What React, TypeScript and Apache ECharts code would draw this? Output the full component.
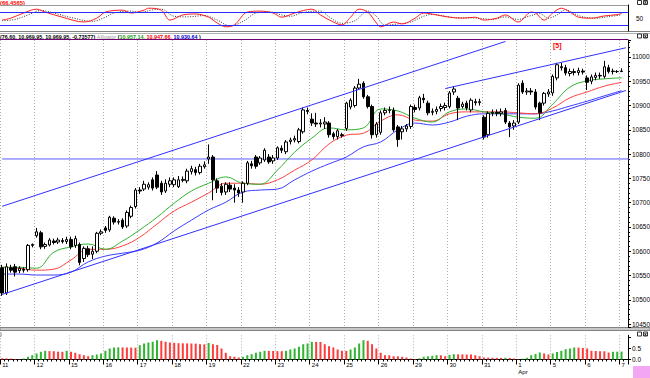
import React, { useEffect, useRef } from "react";
import * as echarts from "echarts";

const dayLabels = ["11", "12", "15", "16", "17", "18", "19", "22", "23", "24", "25", "26", "29", "30", "31", "1", "5", "6", "7"];
const barsPerDay = [8, 8, 8, 8, 8, 8, 8, 8, 8, 8, 8, 8, 8, 8, 8, 8, 8, 8, 2];
const monthMark = { day: "1", text: "Apr" };

// [open, high, low, close]
const ohlc: number[][] = [
  [10566, 10572, 10508, 10514], [10514, 10575, 10510, 10568], [10566, 10572, 10556, 10561], [10568, 10574, 10548, 10557],
  [10560, 10569, 10555, 10565], [10563, 10567, 10556, 10561], [10562, 10615, 10558, 10612], [10612, 10616, 10608, 10614],
  [10632, 10648, 10628, 10640], [10638, 10642, 10604, 10609], [10610, 10618, 10605, 10614], [10613, 10627, 10610, 10623],
  [10621, 10626, 10614, 10618], [10619, 10628, 10615, 10623], [10622, 10627, 10616, 10620], [10620, 10630, 10615, 10624],
  [10624, 10630, 10604, 10609], [10612, 10632, 10607, 10626], [10614, 10618, 10571, 10577], [10585, 10610, 10578, 10606],
  [10605, 10611, 10588, 10593], [10594, 10610, 10584, 10600], [10600, 10640, 10596, 10637], [10637, 10645, 10633, 10640],
  [10648, 10652, 10638, 10643], [10644, 10673, 10640, 10670], [10668, 10672, 10655, 10660], [10660, 10666, 10655, 10661],
  [10664, 10668, 10646, 10650], [10652, 10684, 10648, 10680], [10672, 10694, 10668, 10690], [10692, 10730, 10688, 10726],
  [10726, 10732, 10718, 10724], [10728, 10745, 10724, 10738], [10732, 10742, 10727, 10737], [10747, 10752, 10725, 10730],
  [10757, 10765, 10728, 10732], [10740, 10745, 10716, 10722], [10724, 10748, 10720, 10740], [10738, 10752, 10732, 10745],
  [10737, 10752, 10732, 10747], [10733, 10755, 10730, 10747], [10746, 10754, 10742, 10748], [10745, 10770, 10740, 10765],
  [10764, 10776, 10758, 10770], [10768, 10774, 10756, 10762], [10762, 10780, 10758, 10775], [10774, 10785, 10770, 10778],
  [10790, 10820, 10780, 10794], [10794, 10798, 10705, 10747], [10745, 10750, 10720, 10730], [10734, 10740, 10715, 10721],
  [10722, 10742, 10716, 10738], [10736, 10742, 10722, 10728], [10730, 10738, 10700, 10726], [10726, 10732, 10712, 10720],
  [10722, 10744, 10700, 10740], [10740, 10786, 10736, 10782], [10780, 10786, 10770, 10776], [10794, 10798, 10770, 10775],
  [10782, 10796, 10778, 10792], [10788, 10812, 10784, 10808], [10794, 10800, 10780, 10784], [10786, 10798, 10780, 10792],
  [10792, 10816, 10788, 10813], [10812, 10818, 10802, 10808], [10805, 10829, 10800, 10825], [10826, 10834, 10820, 10829],
  [10829, 10838, 10824, 10832], [10826, 10854, 10822, 10850], [10846, 10896, 10842, 10891], [10890, 10896, 10882, 10888],
  [10872, 10884, 10858, 10864], [10864, 10885, 10856, 10862], [10862, 10872, 10855, 10864], [10862, 10876, 10852, 10866],
  [10864, 10868, 10834, 10840], [10842, 10846, 10830, 10836], [10836, 10852, 10830, 10848], [10840, 10844, 10834, 10838],
  [10853, 10908, 10848, 10905], [10897, 10915, 10892, 10911], [10900, 10940, 10896, 10936], [10936, 10955, 10932, 10944],
  [10946, 10950, 10914, 10918], [10918, 10922, 10894, 10898], [10898, 10902, 10832, 10840], [10840, 10866, 10834, 10862],
  [10845, 10890, 10840, 10885], [10885, 10896, 10880, 10890], [10890, 10898, 10884, 10891], [10890, 10896, 10846, 10850],
  [10856, 10860, 10815, 10830], [10846, 10858, 10830, 10852], [10852, 10862, 10846, 10858], [10857, 10902, 10852, 10898],
  [10896, 10902, 10886, 10892], [10895, 10920, 10890, 10916], [10915, 10924, 10905, 10912], [10905, 10910, 10880, 10885],
  [10886, 10894, 10880, 10888], [10888, 10898, 10882, 10892], [10894, 10904, 10888, 10898], [10896, 10906, 10890, 10900],
  [10898, 10930, 10894, 10926], [10928, 10940, 10922, 10934], [10915, 10920, 10870, 10895], [10898, 10908, 10894, 10903],
  [10905, 10910, 10890, 10895], [10891, 10915, 10886, 10911], [10908, 10914, 10900, 10906], [10906, 10914, 10900, 10908],
  [10876, 10880, 10830, 10835], [10840, 10888, 10834, 10884], [10884, 10892, 10878, 10886], [10886, 10892, 10878, 10884],
  [10884, 10894, 10878, 10887], [10890, 10895, 10862, 10866], [10864, 10868, 10835, 10856], [10858, 10870, 10850, 10864],
  [10866, 10946, 10862, 10942], [10946, 10952, 10924, 10928], [10928, 10936, 10922, 10930], [10930, 10936, 10922, 10928],
  [10928, 10934, 10892, 10897], [10905, 10908, 10870, 10885], [10905, 10928, 10900, 10925], [10924, 10934, 10918, 10928],
  [10926, 10964, 10920, 10960], [10957, 10988, 10952, 10984], [10980, 10988, 10972, 10978], [10978, 10984, 10962, 10967],
  [10966, 10976, 10960, 10970], [10970, 10976, 10962, 10968], [10968, 10978, 10962, 10972], [10971, 10976, 10964, 10969],
  [10957, 10962, 10932, 10948], [10950, 10964, 10944, 10959], [10958, 10968, 10952, 10962], [10962, 10968, 10955, 10961],
  [10960, 10992, 10956, 10980], [10978, 10984, 10966, 10970], [10970, 10976, 10964, 10971], [10970, 10973, 10967, 10970],
  [10971, 10976.6, 10969.95, 10969.95],
];

const alligatorIdx = [0, 4, 8, 12, 16, 20, 24, 28, 32, 36, 40, 44, 48, 52, 56, 60, 64, 68, 72, 76, 80, 84, 88, 92, 96, 100, 104, 108, 112, 116, 120, 124, 128, 132, 136, 140, 144];
const lipsVals = [10567, 10567, 10565, 10598, 10609, 10615, 10604, 10621, 10644, 10670, 10699, 10724, 10740, 10753, 10740, 10738, 10767, 10804, 10833, 10854, 10850, 10854, 10893, 10889, 10874, 10866, 10887, 10893, 10887, 10883, 10876, 10874, 10903, 10938, 10951, 10955, 10957.14];
const teethVals = [10567, 10565, 10561, 10563, 10582, 10604, 10604, 10611, 10629, 10656, 10683, 10701, 10720, 10740, 10740, 10738, 10747, 10767, 10788, 10821, 10839, 10843, 10868, 10881, 10870, 10868, 10883, 10887, 10887, 10887, 10885, 10883, 10895, 10916, 10928, 10940, 10947.66];
const jawVals = [10553, 10553, 10551, 10551, 10557, 10578, 10590, 10596, 10602, 10617, 10642, 10664, 10685, 10701, 10722, 10726, 10728, 10747, 10765, 10780, 10794, 10815, 10825, 10850, 10864, 10860, 10866, 10878, 10883, 10883, 10883, 10883, 10889, 10899, 10909, 10920, 10930.64];

const oscMain = [[0, 46], [2, 52], [5, 68], [8, 80], [10, 71], [14, 55], [19, 40], [22, 52], [24, 71], [28, 77], [30, 68], [33, 77], [34, 83], [37, 77], [39, 46], [42, 62], [45, 65], [48, 55], [50, 37], [52, 25], [54, 31], [57, 71], [60, 74], [63, 68], [65, 55], [68, 68], [72, 80], [74, 62], [77, 40], [79, 31], [81, 55], [83, 80], [85, 71], [87, 37], [88, 25], [91, 40], [93, 34], [96, 52], [98, 68], [101, 62], [104, 55], [107, 52], [110, 55], [112, 46], [115, 52], [117, 62], [120, 40], [123, 71], [124, 68], [126, 46], [128, 68], [130, 83], [132, 71], [134, 55], [137, 52], [140, 59], [143, 63], [144, 66.4565]];
const oscSignal = [[0, 44], [3, 48], [6, 62], [9, 76], [12, 68], [16, 54], [21, 42], [24, 55], [26, 68], [30, 74], [32, 70], [35, 78], [37, 80], [40, 58], [43, 56], [47, 60], [50, 46], [53, 28], [56, 42], [59, 68], [62, 72], [65, 62], [67, 58], [70, 70], [74, 74], [76, 56], [79, 36], [82, 44], [85, 74], [87, 58], [89, 30], [92, 34], [95, 40], [98, 58], [100, 64], [103, 58], [106, 53], [109, 53], [112, 50], [114, 48], [117, 56], [120, 48], [122, 56], [125, 66], [127, 52], [129, 62], [131, 78], [133, 66], [135, 56], [138, 52], [141, 57], [144, 62]];
const oscLevels = [70, 30];

const aoVals = [
  0.055, 0.05, 0.045, 0.023, 0.018, 0.045, 0.123, 0.195, 0.273, 0.35, 0.395, 0.382, 0.377, 0.355, 0.35, 0.395,
  0.35, 0.305, 0.241, 0.195, 0.15, 0.195, 0.227, 0.273, 0.395, 0.5, 0.545, 0.555, 0.55, 0.545, 0.541, 0.536,
  0.65, 0.727, 0.773, 0.805, 0.877, 0.85, 0.805, 0.773, 0.759, 0.741, 0.736, 0.732, 0.727, 0.723, 0.695, 0.691,
  0.75, 0.695, 0.659, 0.5, 0.305, 0.15, 0.123, 0.091, 0.123, 0.195, 0.241, 0.305, 0.35, 0.395, 0.391, 0.386,
  0.382, 0.377, 0.395, 0.455, 0.5, 0.577, 0.695, 0.727, 0.805, 0.8, 0.795, 0.695, 0.605, 0.545, 0.455, 0.395,
  0.391, 0.455, 0.545, 0.727, 0.877, 0.85, 0.695, 0.5, 0.305, 0.195, 0.191, 0.15, 0.145, 0.123, 0.091, 0.045,
  0.023, 0.055, 0.123, 0.145, 0.168, 0.195, 0.191, 0.15, 0.205, 0.241, 0.236, 0.232, 0.227, 0.223, 0.195, 0.15,
  0.091, 0.086, 0.077, 0.075, 0.073, 0.077, 0.073, 0.045, 0.014, 0.036, 0.077, 0.195, 0.25, 0.318, 0.273, 0.227,
  0.273, 0.341, 0.395, 0.468, 0.5, 0.545, 0.541, 0.523, 0.5, 0.395, 0.386, 0.377, 0.373, 0.318, 0.35, 0.355,
  0.359,
];

const upperChannel = [[0, 10692.5], [117, 11032]];
const lowerChannel = [[0, 10511], [145, 10931]];
const upperChannel2 = [[103, 10935], [145, 11019]];
const hLevel = 10790;
const headerQuote = ["76.60", "10,969.95", "10,969.95", "-0.73577"];
const waveLabel = "[5]";
const priceMin = 10444;
const priceMax = 11035;

const FONT = '"Liberation Sans", Arial, sans-serif';

function fmt2(v: number) {
  return v.toLocaleString("en-US", { minimumFractionDigits: 2, maximumFractionDigits: 2 });
}

function buildOption() {
  const categories: string[] = [];
  const dayStart = new Map<number, string>();
  dayLabels.forEach((d, di) => {
    for (let k = 0; k < barsPerDay[di]; k++) {
      if (k === 0) dayStart.set(categories.length, d);
      categories.push(d + ":" + k);
    }
  });
  const isDayStart = (i: number) => dayStart.has(i);

  const gridLine = {
    show: true,
    interval: (i: number) => isDayStart(i),
    lineStyle: { color: "#b0b0b0", type: [1, 2], width: 1 },
  };
  const hiddenX = (gridIndex: number, split: boolean) => ({
    type: "category",
    gridIndex,
    data: categories,
    boundaryGap: true,
    axisLine: { show: false },
    axisTick: { show: false },
    axisLabel: { show: false },
    splitLine: split ? gridLine : { show: false },
  });

  const candleData = ohlc.map(([o, h, l, c]) => [o, c, l, h]);
  const pairs = (idx: number[], vals: number[]) => idx.map((i, k) => [i, vals[k]]);

  const green = "#2fb52f";
  const red = "#ff3c3c";
  const aoData = aoVals.map((v, i) => ({
    value: v,
    itemStyle: { color: i > 0 && v >= aoVals[i - 1] ? green : red },
  }));

  const lineBase = {
    type: "line",
    symbol: "none",
    silent: true,
    connectNulls: true,
    xAxisIndex: 1,
    yAxisIndex: 1,
  };

  const last = (a: number[]) => a[a.length - 1];
  const oscLast = oscMain[oscMain.length - 1][1];
  const nCat = categories.length;

  const icon = (y: number) => [
    { type: "rect", shape: { x: 637.5, y: y + 0.5, width: 4, height: 4 }, style: { fill: "#fff", stroke: "#333", lineWidth: 1 } },
    { type: "rect", shape: { x: 643.5, y: y + 0.5, width: 4, height: 4 }, style: { fill: "#fff", stroke: "#333", lineWidth: 1 } },
    { type: "text", x: 644, y: y - 0.5, style: { text: "x", font: "bold 5px " + FONT, fill: "#000" } },
  ];

  return {
    animation: false,
    backgroundColor: "#fff",
    grid: [
      { left: 0, right: 22, top: 5, height: 26, outerBoundsMode: "none", containLabel: false },
      { left: 0, right: 22, top: 40, height: 287, outerBoundsMode: "none", containLabel: false },
      { left: 0, right: 22, top: 335.3, height: 24.2, outerBoundsMode: "none", containLabel: false },
    ],
    xAxis: [
      hiddenX(0, false),
      hiddenX(1, true),
      {
        ...hiddenX(2, true),
        position: "bottom",
        axisLine: { show: true, lineStyle: { color: "#000", width: 1 } },
        axisTick: { show: true, interval: 0, length: 2, lineStyle: { color: "#000" } },
      },
      {
        type: "category",
        gridIndex: 2,
        data: categories,
        boundaryGap: true,
        position: "bottom",
        axisLine: { show: false },
        axisTick: { show: true, interval: (i: number) => isDayStart(i), length: 5, lineStyle: { color: "#000" } },
        axisLabel: {
          show: true,
          interval: (i: number) => isDayStart(i),
          formatter: (v: string) => {
            const d = v.split(":")[0];
            return d === monthMark.day ? d + "\n" + monthMark.text : d;
          },
          align: "left",
          margin: 2,
          fontSize: 6,
          lineHeight: 7,
          fontFamily: FONT,
          color: "#000",
          verticalAlign: "top",
        },
        splitLine: { show: false },
      },
    ],
    yAxis: [
      {
        type: "value",
        gridIndex: 0,
        position: "right",
        min: 12,
        max: 93,
        splitNumber: 8,
        axisLine: { show: true, lineStyle: { color: "#000" } },
        axisTick: { show: false },
        splitLine: { show: false },
        axisLabel: {
          show: true,
          margin: 8,
          fontSize: 6.5,
          fontFamily: FONT,
          color: "#000",
          showMinLabel: false,
          showMaxLabel: false,
          formatter: (v: number) => (v === 50 ? "50" : ""),
        },
      },
      {
        type: "value",
        gridIndex: 1,
        position: "right",
        min: priceMin,
        max: priceMax,
        splitNumber: 12,
        axisLine: { show: true, lineStyle: { color: "#000" } },
        axisTick: { show: true, length: 3, lineStyle: { color: "#000" } },
        minorTick: { show: true, splitNumber: 5, length: 2, lineStyle: { color: "#000" } },
        splitLine: { show: false },
        axisLabel: {
          show: true,
          margin: 4,
          fontSize: 6.5,
          fontFamily: FONT,
          color: "#000",
          showMinLabel: false,
          showMaxLabel: false,
          formatter: (v: number) => String(v),
        },
      },
      {
        type: "value",
        gridIndex: 2,
        position: "right",
        min: 0,
        max: 1.1,
        splitNumber: 2,
        axisLine: { show: true, lineStyle: { color: "#000" } },
        axisTick: { show: true, length: 3, lineStyle: { color: "#000" } },
        splitLine: { show: false },
        axisLabel: {
          show: true,
          margin: 4,
          fontSize: 6.5,
          fontFamily: FONT,
          color: "#000",
          showMinLabel: true,
          showMaxLabel: false,
          formatter: (v: number) => (v === 0 ? "0.0" : v === 0.5 ? "0.5" : ""),
        },
      },
    ],
    series: [
      {
        type: "line",
        xAxisIndex: 0,
        yAxisIndex: 0,
        data: oscMain,
        symbol: "none",
        smooth: 0.35,
        silent: true,
        lineStyle: { color: "#ff2020", width: 1 },
        markLine: {
          silent: true,
          symbol: "none",
          label: { show: false },
          lineStyle: { color: "#2a2aff", type: "solid", width: 1 },
          data: oscLevels.map((v) => ({ yAxis: v })),
        },
        z: 3,
      },
      {
        type: "line",
        xAxisIndex: 0,
        yAxisIndex: 0,
        data: oscSignal,
        symbol: "none",
        smooth: 0.35,
        silent: true,
        lineStyle: { color: "#333", width: 1, type: [1, 1.5] },
        z: 2,
      },
      {
        type: "candlestick",
        xAxisIndex: 1,
        yAxisIndex: 1,
        data: candleData,
        barWidth: 3,
        silent: true,
        itemStyle: { color: "#fff", color0: "#000", borderColor: "#000", borderColor0: "#000", borderWidth: 1 },
        z: 5,
      },
      {
        ...lineBase,
        data: [[-0.5, hLevel], [nCat - 0.5, hLevel]],
        lineStyle: { color: "#5a5aff", width: 1 },
        z: 3,
      },
      { ...lineBase, data: pairs(alligatorIdx, jawVals), smooth: 0.4, lineStyle: { color: "#3c3cff", width: 1 }, z: 4 },
      { ...lineBase, data: pairs(alligatorIdx, teethVals), smooth: 0.4, lineStyle: { color: "#ff4040", width: 1 }, z: 4 },
      { ...lineBase, data: pairs(alligatorIdx, lipsVals), smooth: 0.4, lineStyle: { color: "#30b030", width: 1 }, z: 4 },
      { ...lineBase, data: upperChannel, lineStyle: { color: "#3030ff", width: 1 }, z: 6 },
      { ...lineBase, data: lowerChannel, lineStyle: { color: "#3030ff", width: 1 }, z: 6 },
      { ...lineBase, data: upperChannel2, lineStyle: { color: "#3030ff", width: 1 }, z: 6 },
      {
        type: "bar",
        xAxisIndex: 2,
        yAxisIndex: 2,
        data: aoData,
        barWidth: 2,
        silent: true,
      },
    ],
    graphic: [
      { type: "text", x: 0, y: -0.5, style: { text: "(" + oscLast.toFixed(4) + ")", font: "bold 5.8px " + FONT, fill: "#ff0000" } },
      { type: "line", shape: { x1: 0, y1: 5.5, x2: 628, y2: 5.5 }, style: { stroke: "#9a9a9a", lineWidth: 1 } },
      { type: "line", shape: { x1: 0, y1: 31.5, x2: 650, y2: 31.5 }, style: { stroke: "#808080", lineWidth: 1 } },
      { type: "line", shape: { x1: 0, y1: 33.5, x2: 650, y2: 33.5 }, style: { stroke: "#b0b0b0", lineWidth: 1 } },
      {
        type: "text",
        x: 0,
        y: 34,
        style: {
          text:
            "{k|(" + headerQuote.join(", ") + ")} {a|Alligator} {k|(}{g|" + fmt2(last(lipsVals)) + ",} {r|" +
            fmt2(last(teethVals)) + ",} {b|" + fmt2(last(jawVals)) + "} {k|)}",
          font: "bold 5.4px " + FONT,
          fill: "#000",
          rich: {
            k: { fill: "#000", fontWeight: "bold", fontSize: 5.4, fontFamily: FONT },
            a: { fill: "#9a9a9a", fontWeight: "normal", fontSize: 5.4, fontFamily: FONT },
            g: { fill: "#149a14", fontWeight: "bold", fontSize: 5.4, fontFamily: FONT },
            r: { fill: "#ee0000", fontWeight: "bold", fontSize: 5.4, fontFamily: FONT },
            b: { fill: "#0000cc", fontWeight: "bold", fontSize: 5.4, fontFamily: FONT },
          },
        },
      },
      { type: "line", shape: { x1: 0, y1: 39.5, x2: 628, y2: 39.5 }, style: { stroke: "#700070", lineWidth: 1 } },
      { type: "text", x: 553, y: 41.5, style: { text: waveLabel, font: "bold 7px " + FONT, fill: "#ff0000" } },
      { type: "rect", shape: { x: 0, y: 327.5, width: 650, height: 3 }, style: { fill: "#c8c8c8", stroke: "#808080", lineWidth: 1 } },
      { type: "text", x: 0, y: 331, style: { text: ")", font: "5px " + FONT, fill: "#000" } },
      ...icon(0),
      ...icon(33.5),
      ...icon(331.5),
      { type: "rect", shape: { x: 633, y: 366, width: 17, height: 12 }, style: { fill: "#f3a6f3" } },
    ],
  };
}

export default function App() {
  const ref = useRef<HTMLDivElement>(null);
  useEffect(() => {
    if (!ref.current) return;
    const chart = echarts.init(ref.current, null, { renderer: "svg" });
    chart.setOption(buildOption() as any);
    return () => chart.dispose();
  }, []);
  return <div ref={ref} style={{ position: "absolute", left: 0, top: 0, width: 650, height: 378 }} />;
}
